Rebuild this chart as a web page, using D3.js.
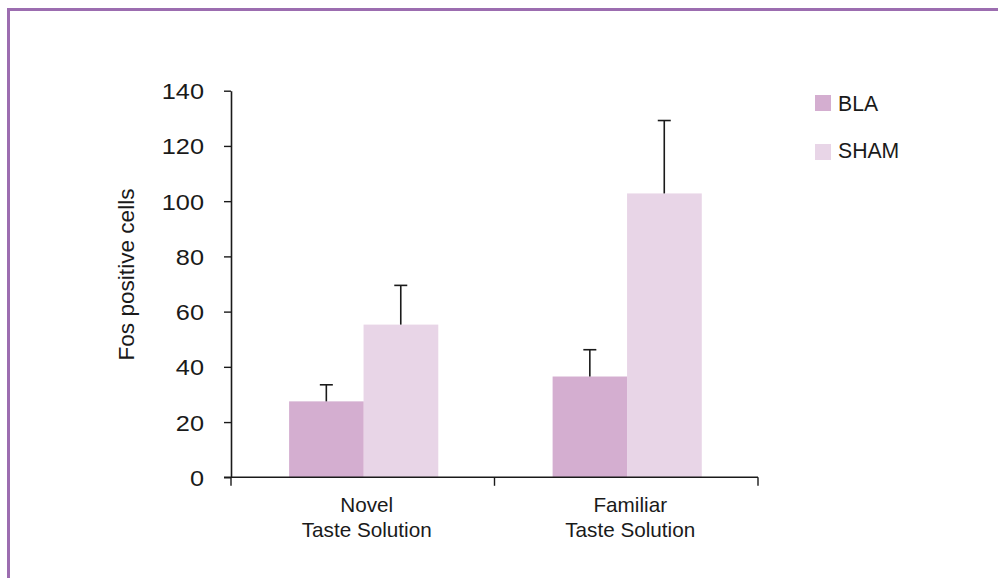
<!DOCTYPE html>
<html>
<head>
<meta charset="utf-8">
<script src="https://cdn.jsdelivr.net/npm/d3@7"></script>
<style>
  html, body { margin: 0; padding: 0; background: #fff; }
  svg { display: block; }
  text { font-family: "Liberation Sans", Arial, Helvetica, sans-serif; fill: #1a1a1a; }
</style>
</head>
<body>
<svg id="chart" width="998" height="578"></svg>
<script>
// ---- data ----
const categories = ["Novel\nTaste Solution", "Familiar\nTaste Solution"];
const seriesNames = ["BLA", "SHAM"];
const blaValues = [27.5, 36.5];
const blaErrors = [6.0, 9.7];
const shamValues = [55.3, 102.8];
const shamErrors = [14.2, 26.4];
const yTicks = [0, 20, 40, 60, 80, 100, 120, 140];
const yTitle = "Fos positive cells";
const colors = ["#d4aed0", "#e8d5e7"];

const rows = categories.map((c, i) => ({
  cat: c,
  vals: [
    { s: seriesNames[0], v: blaValues[i], e: blaErrors[i] },
    { s: seriesNames[1], v: shamValues[i], e: shamErrors[i] }
  ]
}));

const svg = d3.select("#chart");

// frame (top and left purple border)
svg.append("line").attr("x1", 7).attr("x2", 998).attr("y1", 9.5).attr("y2", 9.5)
  .attr("stroke", "#9c6db0").attr("stroke-width", 3);
svg.append("line").attr("x1", 8.5).attr("x2", 8.5).attr("y1", 8).attr("y2", 578)
  .attr("stroke", "#9c6db0").attr("stroke-width", 3);

const x0 = 231, x1 = 758, yBottom = 477.3, yTop = 90.7;

const x = d3.scaleBand().domain(categories).range([x0, x1]).paddingInner(0).paddingOuter(0);
const xs = d3.scaleBand().domain(seriesNames).range([0, x.bandwidth()]).paddingInner(0).paddingOuter(0.77);
const y = d3.scaleLinear().domain([0, 140]).range([yBottom, yTop]);
const color = d3.scaleOrdinal().domain(seriesNames).range(colors);

// bars
const groups = svg.append("g").selectAll("g").data(rows).join("g")
  .attr("transform", d => `translate(${x(d.cat) + 0.8},0)`);

groups.selectAll("rect").data(d => d.vals).join("rect")
  .attr("x", d => xs(d.s))
  .attr("width", xs.bandwidth() + 0.3)
  .attr("y", d => y(d.v))
  .attr("height", d => y(0) - y(d.v))
  .attr("fill", d => color(d.s));

// error bars (upper only)
const eb = groups.selectAll("g.err").data(d => d.vals).join("g").attr("class", "err");
eb.append("line")
  .attr("x1", d => xs(d.s) + xs.bandwidth() / 2)
  .attr("x2", d => xs(d.s) + xs.bandwidth() / 2)
  .attr("y1", d => y(d.v))
  .attr("y2", d => y(d.v + d.e))
  .attr("stroke", "#1a1a1a").attr("stroke-width", 1.6);
eb.append("line")
  .attr("x1", d => xs(d.s) + xs.bandwidth() / 2 - 6.5)
  .attr("x2", d => xs(d.s) + xs.bandwidth() / 2 + 6.5)
  .attr("y1", d => y(d.v + d.e))
  .attr("y2", d => y(d.v + d.e))
  .attr("stroke", "#1a1a1a").attr("stroke-width", 1.6);

// y axis
const yAxis = svg.append("g").attr("transform", `translate(${x0},0)`)
  .call(d3.axisLeft(y).tickValues(yTicks).tickSize(7).tickSizeOuter(0));
yAxis.select(".domain").attr("stroke", "#1a1a1a").attr("stroke-width", 1.6);
yAxis.selectAll(".tick line").attr("stroke", "#1a1a1a").attr("stroke-width", 1.4);
yAxis.selectAll(".tick text")
  .attr("font-size", 22)
  .attr("font-family", "Liberation Sans, Arial, sans-serif")
  .attr("fill", "#1a1a1a")
  .attr("x", 0).attr("dy", null)
  .attr("transform", "translate(-27,8) scale(1.15,1)");

// x axis
const xAxisG = svg.append("g");
xAxisG.append("line").attr("x1", x0 - 7).attr("x2", x1).attr("y1", yBottom).attr("y2", yBottom)
  .attr("stroke", "#1a1a1a").attr("stroke-width", 1.6);
const boundaries = [x(categories[0])].concat(categories.map(c => x(c) + x.bandwidth()));
xAxisG.selectAll("line.xt").data(boundaries).join("line").attr("class", "xt")
  .attr("x1", d => d).attr("x2", d => d)
  .attr("y1", yBottom).attr("y2", yBottom + 8.5)
  .attr("stroke", "#1a1a1a").attr("stroke-width", 1.4);

const xl = xAxisG.selectAll("text.xl").data(categories).join("text").attr("class", "xl")
  .attr("text-anchor", "middle")
  .attr("font-size", 20.7);
xl.each(function(d) {
  const lines = d.split("\n");
  d3.select(this).selectAll("tspan").data(lines).join("tspan")
    .attr("x", x(d) + x.bandwidth() / 2 + 4)
    .attr("y", (l, i) => 511.7 + i * 25.3)
    .text(l => l);
});

// y title
svg.append("text")
  .attr("transform", `translate(134,274.5) rotate(-90)`)
  .attr("text-anchor", "middle")
  .attr("font-size", 22.6)
  .text(yTitle);

// legend
const legend = svg.append("g").selectAll("g").data(seriesNames).join("g")
  .attr("transform", (d, i) => `translate(815,${95 + i * 49})`);
legend.append("rect").attr("width", 16).attr("height", 16).attr("fill", d => color(d));
legend.append("text").attr("x", 23).attr("y", (d, i) => i === 0 ? 15.8 : 13.5)
  .attr("font-size", 21.2)
  .text(d => d);
</script>
</body>
</html>
